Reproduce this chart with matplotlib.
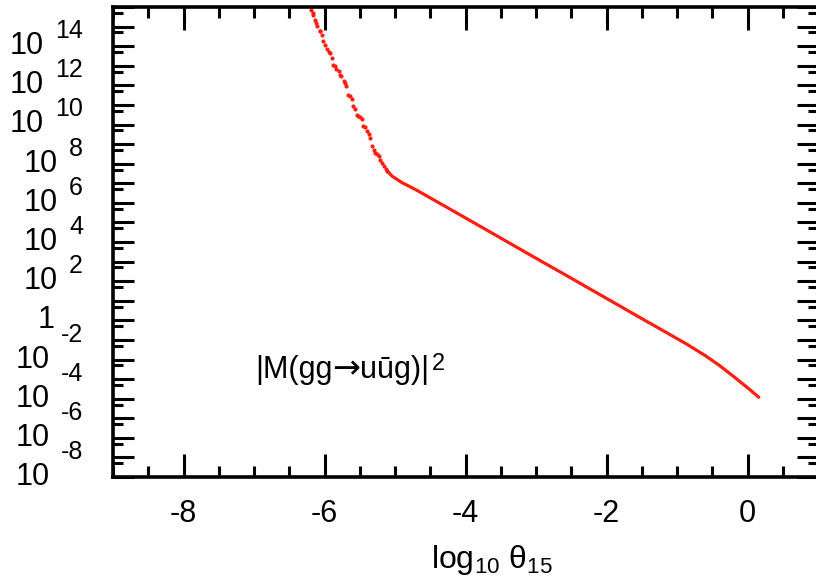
import numpy as np
import matplotlib
matplotlib.use("Agg")
import matplotlib.pyplot as plt
from matplotlib.ticker import LogLocator, MultipleLocator, NullFormatter

plt.rcParams["font.family"] = ["Liberation Sans", "DejaVu Sans"]
plt.rcParams["mathtext.fontset"] = "custom"
plt.rcParams["mathtext.rm"] = "Liberation Sans"
plt.rcParams["mathtext.it"] = "Liberation Sans"
plt.rcParams["mathtext.default"] = "regular"
plt.rcParams["axes.unicode_minus"] = False

# noisy points at very small angles (log10 theta, log10 |M|^2)
tail_log_theta = [-6.19, -6.17, -6.16, -6.14, -6.12, -6.10, -6.07, -6.06, -6.04,
                  -6.02, -5.99, -5.97, -5.93, -5.92, -5.90, -5.88, -5.85, -5.83,
                  -5.80, -5.78, -5.76, -5.73, -5.71, -5.69, -5.66, -5.64, -5.61,
                  -5.59, -5.57, -5.54, -5.52, -5.50, -5.47, -5.45, -5.42, -5.40,
                  -5.37, -5.35, -5.33, -5.30, -5.28, -5.25, -5.23, -5.21, -5.19,
                  -5.16, -5.13, -5.11]
tail_log_me = [15.87, 15.70, 15.61, 15.36, 15.20, 15.02, 14.76, 14.80, 14.59,
               14.25, 14.05, 13.83, 13.70, 13.66, 13.40, 13.06, 13.00, 12.81,
               12.72, 12.55, 12.46, 12.21, 12.13, 11.95, 11.53, 11.44, 11.28,
               10.93, 10.77, 10.51, 10.42, 10.40, 10.26, 9.91, 9.85, 9.66,
               9.49, 9.30, 8.89, 8.72, 8.56, 8.50, 8.38, 8.21, 8.05,
               7.87, 7.74, 7.62]

# stable region
main_log_theta = [-5.11, -5.04, -4.90, -4.71, -4.47, -4.00, -3.50, -3.00, -2.50,
                  -2.00, -1.50, -1.20, -0.86, -0.60, -0.40, -0.20, 0.00, 0.16]
main_log_me = [7.62, 7.36, 7.03, 6.68, 6.19, 5.23, 4.20, 3.17, 2.15,
               1.12, 0.09, -0.52, -1.22, -1.80, -2.30, -2.86, -3.44, -3.93]

y_label_exps = [-8, -6, -4, -2, 0, 2, 4, 6, 8, 10, 12, 14]
x_tick_vals = [-8, -6, -4, -2, 0]

red = "#ff1f10"
W, H = 816, 588

fig = plt.figure(figsize=(W / 100, H / 100), dpi=100)
ax = fig.add_axes([113 / W, 1 - 477 / H, (818 - 113) / W, 470 / H])
ax.set_yscale("log")
ax.set_xlim(-9, 1)
ax.set_ylim(1e-8, 1e16)

ax.plot(main_log_theta, np.power(10.0, main_log_me), color=red, lw=2.3,
        solid_capstyle="round", solid_joinstyle="round")
ax.plot(tail_log_theta, np.power(10.0, tail_log_me), ls="none", marker="o",
        ms=3.0, mew=0, color=red)

for s in ax.spines.values():
    s.set_linewidth(2.6)

ax.xaxis.set_minor_locator(MultipleLocator(0.5))
ax.set_xticks(x_tick_vals)
ax.set_xticklabels([str(v) for v in x_tick_vals])
ax.yaxis.set_major_locator(LogLocator(base=10, numticks=60))
ax.yaxis.set_minor_locator(LogLocator(base=10, subs=(5.0,), numticks=60))
ax.yaxis.set_minor_formatter(NullFormatter())

ax.tick_params(which="both", direction="in", top=True, right=True, width=2.2,
               labelleft=False)
ax.tick_params(axis="x", which="major", length=16.5, labelsize=22, pad=16)
ax.tick_params(axis="x", which="minor", length=8)
ax.tick_params(axis="y", which="major", length=15)
ax.tick_params(axis="y", which="minor", length=7.5)

# y labels drawn as "10" with a raised exponent
for e in y_label_exps:
    if e == 0:
        ax.annotate("1", xy=(0, 1.0), xycoords=("axes fraction", "data"),
                    xytext=(-58, 0), textcoords="offset pixels", ha="right",
                    va="center", fontsize=22, annotation_clip=False)
        continue
    dy = 15 if e > 0 else 25
    ex = ax.annotate(str(e), xy=(0, 10.0 ** e), xycoords=("axes fraction", "data"),
                     xytext=(-30, dy), textcoords="offset pixels", ha="right",
                     va="center", fontsize=18, annotation_clip=False)
    ax.annotate("10", xy=(0, 0.5), xycoords=ex, xytext=(-11, -dy),
                textcoords="offset pixels", ha="right", va="center",
                fontsize=22, annotation_clip=False)

# |M(gg -> u ubar g)|^2 built from pieces so the arrow can come from DejaVu
p1 = ax.text(0.2014, 0.2106, "|M(gg", transform=ax.transAxes,
             ha="left", va="baseline", fontsize=22)
p2 = ax.annotate("→", xy=(1, 0), xycoords=p1, xytext=(0, 0),
                 textcoords="offset pixels", ha="left", va="bottom",
                 fontsize=24, family="DejaVu Sans")
p3 = ax.annotate("uūg)|", xy=(1, 0), xycoords=p2, xytext=(0, 0),
                 textcoords="offset pixels", ha="left", va="bottom",
                 fontsize=22)
ax.annotate("2", xy=(1, 1), xycoords=p3, xytext=(2, 2),
            textcoords="offset pixels", ha="left", va="top", fontsize=17)

fig.text(492 / W, 1 - 560 / H, r"log$_{10}$ θ$_{15}$", ha="center",
         va="center", fontsize=23)

fig.savefig("out.png", dpi=100)
